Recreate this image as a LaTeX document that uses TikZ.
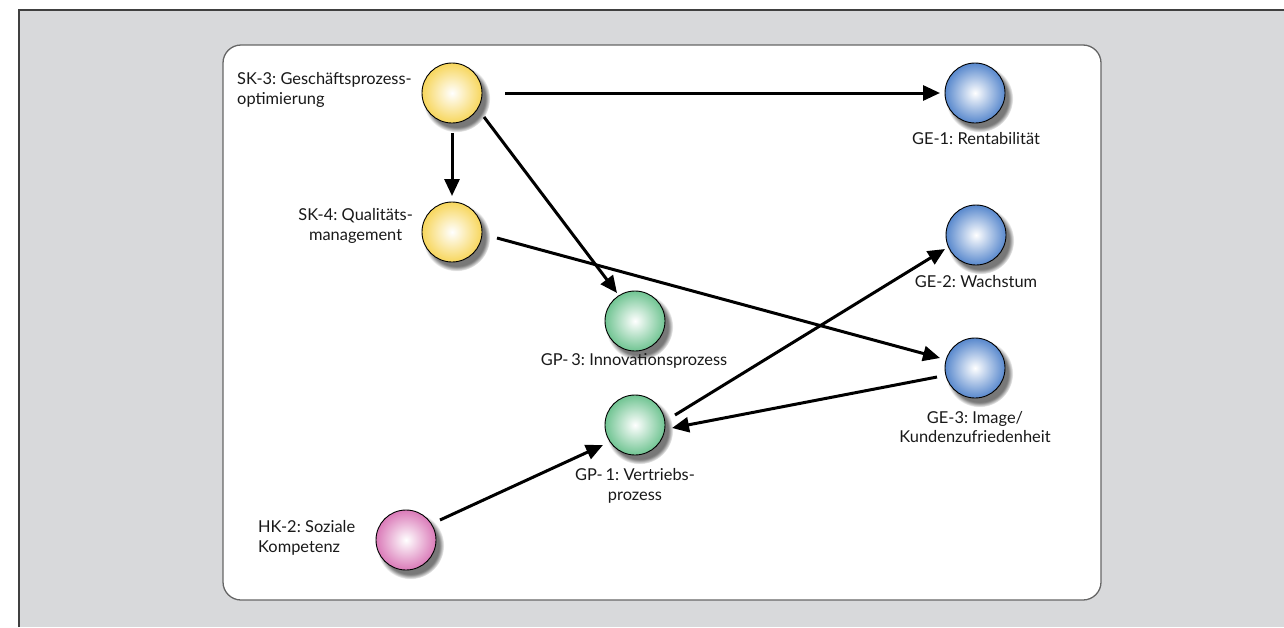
\documentclass[tikz,border=0pt]{standalone}
\usepackage{fontspec}
\setmainfont{Lato}[WordSpace=0.7]
\usetikzlibrary{arrows.meta,shadows,calc,fadings}
\definecolor{bggray}{RGB}{216,217,219}
\definecolor{ylw}{RGB}{247,214,92}
\definecolor{blu}{RGB}{88,136,205}
\definecolor{grn}{RGB}{112,196,146}
\definecolor{pnk}{RGB}{218,122,184}
\begin{document}
\begin{tikzpicture}[x=1pt,y=-1pt,
  ball/.style={circle, minimum size=60pt, inner sep=0pt, draw=black, line width=0.9pt,
    shading=radial, inner color=white,
    circular drop shadow={shadow xshift=4pt, shadow yshift=-5pt, shadow scale=1.12, opacity=0.7, fill=black!75}},
  yball/.style={ball, outer color=ylw},
  bball/.style={ball, outer color=blu},
  gball/.style={ball, outer color=grn},
  pball/.style={ball, outer color=pnk},
  lbl/.style={inner sep=0pt, font=\fontsize{16.4}{19.5}\selectfont, text=black!90},
  conn/.style={line width=3pt, -{Triangle[length=17pt,width=15pt]}}
]
\useasboundingbox (0,0) rectangle (1284,627);
\fill[white] (0,0) rectangle (1284,627);
\fill[bggray] (19,10) rectangle (1284,627);
\draw[line width=1.5pt, black!75] (19,627) -- (19,10) -- (1284,10);
\draw[fill=white, rounded corners=18pt, draw=black!60, line width=1.3pt] (223,45) rectangle (1101,600);

\node[yball] (sk3) at (452,93) {};
\node[yball] (sk4) at (452,232) {};
\node[gball] (gp3) at (635,321) {};
\node[gball] (gp1) at (635,425) {};
\node[pball] (hk2) at (406,540) {};
\node[bball] (ge1) at (975,93) {};
\node[bball] (ge2) at (976,235) {};
\node[bball] (ge3) at (975,368) {};

\node[lbl, anchor=west, align=left] (tsk3) at (237,90) {SK-3: Geschäftsprozess-\\optimierung};
\node[lbl, anchor=east, align=center] (tsk4) at (413,226) {SK-4: Qualitäts-\\management};
\node[lbl] (tge1) at (976,139) {GE-1: Rentabilität};
\node[lbl] (tge2) at (976,282) {GE-2: Wachstum};
\node[lbl] (tgp3) at (634,361) {GP- 3: Innovationsprozess};
\node[lbl, align=center] (tgp1) at (635,486) {GP- 1: Vertriebs-\\prozess};
\node[lbl, anchor=west, align=left] (thk2) at (258,538) {HK-2: Soziale\\Kompetenz};
\node[lbl, align=center] (tge3) at (975,427) {GE-3: Image/\\Kundenzufriedenheit};

\draw[conn] ($(sk3)+(53,0)$) -- ($(ge1)+(-35,0)$);
\draw[conn] ($(sk3)+(0,40)$) -- ($(sk4)+(0,-36)$);
\draw[conn] ($(sk3)+(32,24)$) -- ($(gp3)+(-18,-28)$);
\draw[conn] ($(sk4)+(45,6)$) -- ($(ge3)+(-35,-10)$);
\draw[conn] ($(gp1)+(40,-10)$) -- ($(ge2)+(-31,14)$);
\draw[conn] ($(ge3)+(-38,9)$) -- ($(gp1)+(37,3)$);
\draw[conn] ($(hk2)+(34,-20)$) -- ($(gp1)+(-32,20)$);
\end{tikzpicture}
\end{document}
